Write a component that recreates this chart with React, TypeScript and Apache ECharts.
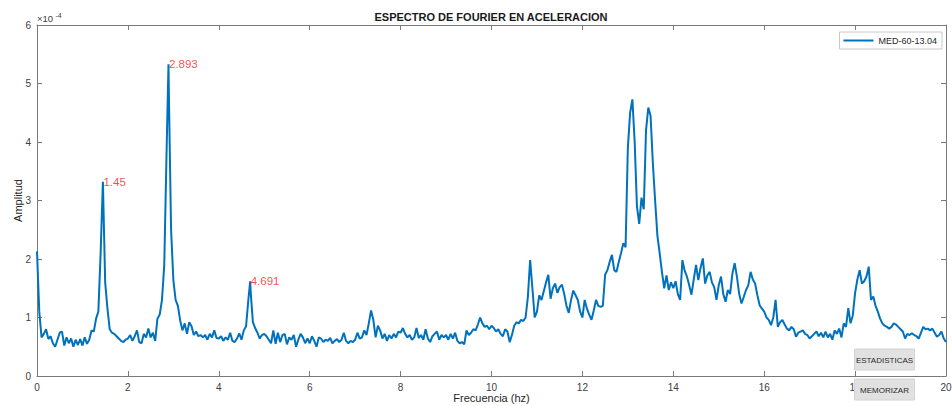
import React, { useEffect, useRef } from "react";
import * as echarts from "echarts";

// Texts
const TITLE = "ESPECTRO DE FOURIER EN ACELERACION";
const SERIES_NAME = "MED-60-13.04";
const X_NAME = "Frecuencia (hz)";
const Y_NAME = "Amplitud";
const Y_EXPONENT = "-4";
const BUTTON_LABELS = ["ESTADISTICAS", "MEMORIZAR"];

// Axis ranges
const X_MIN = 0;
const X_MAX = 20;
const X_STEP = 2;
const Y_MIN = 0;
const Y_MAX = 6;
const Y_STEP = 1;

// Spectrum bins: one amplitude (x10^-4) every FREQ_STEP Hz from 0 to 20 Hz
const FREQ_STEP = 0.05;
const AMPLITUDE = [
  // 0.00 - 0.95
  2.13, 1.10, 0.66, 0.72, 0.80, 0.63, 0.68, 0.56, 0.50, 0.62, 0.74, 0.76, 0.52, 0.66, 0.56, 0.64, 0.50, 0.62, 0.53, 0.63,
  // 1.00 - 1.95
  0.52, 0.66, 0.55, 0.62, 0.78, 0.76, 0.98, 1.10, 2.10, 3.32, 1.60, 1.15, 0.80, 0.74, 0.72, 0.68, 0.64, 0.60, 0.58, 0.62,
  // 2.00 - 2.95
  0.64, 0.70, 0.60, 0.68, 0.78, 0.58, 0.56, 0.72, 0.66, 0.81, 0.66, 0.74, 0.60, 0.98, 1.05, 1.30, 1.90, 3.80, 4.90, 2.50,
  // 3.00 - 3.95
  1.64, 1.30, 1.20, 0.95, 0.78, 0.90, 0.72, 0.92, 0.85, 0.70, 0.76, 0.68, 0.70, 0.66, 0.70, 0.62, 0.72, 0.66, 0.78, 0.65,
  // 4.00 - 4.95
  0.64, 0.68, 0.60, 0.66, 0.62, 0.74, 0.60, 0.58, 0.64, 0.73, 0.62, 0.78, 0.85, 1.30, 1.45, 0.92, 0.82, 0.74, 0.64, 0.70,
  // 5.00 - 5.95
  0.72, 0.68, 0.62, 0.56, 0.78, 0.55, 0.74, 0.58, 0.70, 0.72, 0.54, 0.66, 0.62, 0.70, 0.50, 0.62, 0.72, 0.66, 0.56, 0.64,
  // 6.00 - 6.95
  0.56, 0.68, 0.60, 0.50, 0.66, 0.64, 0.58, 0.62, 0.60, 0.65, 0.56, 0.60, 0.63, 0.58, 0.62, 0.74, 0.60, 0.56, 0.60, 0.58,
  // 7.00 - 7.95
  0.62, 0.74, 0.64, 0.66, 0.78, 0.70, 0.90, 1.12, 0.96, 0.66, 0.86, 0.78, 0.64, 0.72, 0.60, 0.70, 0.64, 0.72, 0.66, 0.76,
  // 8.00 - 8.95
  0.74, 0.82, 0.72, 0.66, 0.70, 0.62, 0.66, 0.82, 0.65, 0.70, 0.62, 0.80, 0.64, 0.58, 0.68, 0.72, 0.76, 0.62, 0.70, 0.66,
  // 9.00 - 9.95
  0.70, 0.62, 0.72, 0.64, 0.74, 0.60, 0.56, 0.58, 0.54, 0.78, 0.70, 0.74, 0.80, 0.78, 0.88, 1.00, 0.90, 0.84, 0.86, 0.80,
  // 10.00 - 10.95
  0.86, 0.82, 0.76, 0.80, 0.72, 0.68, 0.80, 0.76, 0.58, 0.70, 0.86, 0.92, 0.90, 0.96, 0.94, 1.00, 1.35, 1.98, 1.50, 1.00,
  // 11.00 - 11.95
  1.10, 1.38, 1.30, 1.45, 1.60, 1.73, 1.32, 1.50, 1.58, 1.42, 1.52, 1.56, 1.40, 1.20, 1.08, 1.30, 1.46, 1.38, 1.30, 1.10,
  // 12.00 - 12.95
  1.00, 1.30, 1.15, 1.05, 0.96, 1.12, 1.30, 1.20, 1.18, 1.20, 1.73, 1.81, 1.95, 2.07, 1.81, 1.78, 1.95, 2.10, 2.27, 2.20,
  // 13.00 - 13.95
  3.90, 4.50, 4.73, 4.00, 2.90, 2.60, 3.05, 2.85, 4.20, 4.59, 4.45, 3.64, 3.00, 2.40, 2.10, 1.78, 1.50, 1.72, 1.47, 1.60,
  // 14.00 - 14.95
  1.50, 1.62, 1.40, 1.30, 1.98, 1.80, 1.70, 1.55, 1.39, 1.65, 1.90, 1.64, 1.85, 2.01, 1.58, 1.72, 1.78, 1.60, 1.52, 1.30,
  // 15.00 - 15.95
  1.55, 1.70, 1.40, 1.27, 1.47, 1.40, 1.75, 1.93, 1.70, 1.40, 1.24, 1.35, 1.47, 1.55, 1.78, 1.65, 1.58, 1.38, 1.21, 1.15,
  // 16.00 - 16.95
  1.10, 1.00, 0.96, 0.87, 1.00, 1.30, 0.84, 0.92, 0.96, 0.88, 0.81, 0.78, 0.84, 0.80, 0.67, 0.74, 0.76, 0.78, 0.72, 0.70,
  // 17.00 - 17.95
  0.64, 0.68, 0.72, 0.76, 0.68, 0.74, 0.66, 0.76, 0.66, 0.72, 0.62, 0.78, 0.72, 0.81, 0.66, 0.90, 0.84, 1.16, 0.90, 1.04,
  // 18.00 - 18.95
  1.42, 1.65, 1.81, 1.58, 1.62, 1.70, 1.87, 1.30, 1.36, 1.20, 1.10, 0.98, 0.90, 0.86, 0.84, 0.81, 0.84, 0.90, 0.88, 0.84,
  // 19.00 - 20.00
  0.80, 0.76, 0.64, 0.72, 0.70, 0.73, 0.70, 0.68, 0.64, 0.74, 0.84, 0.80, 0.81, 0.78, 0.81, 0.74, 0.67, 0.70, 0.76, 0.64,
  0.58,
];

// Marked peaks (frequency in Hz, amplitude x10^-4)
const PEAK_FREQ = [1.45, 2.893, 4.691];
const PEAK_AMP = [3.32, 5.33, 1.62];

// Styles
const FONT = "'Liberation Sans', Arial, Helvetica, sans-serif";
const LINE_COLOR = "#0072BD";
const AXIS_COLOR = "#7a7a7a";
const LABEL_COLOR = "#404040";
const PEAK_COLOR = "#f51d1d";

function buildSpectrum(): number[][] {
  const bins = AMPLITUDE.map((a, i) => [Number((i * FREQ_STEP).toFixed(3)), a]);
  const peaks = PEAK_FREQ.map((f, i) => [f, PEAK_AMP[i]]);
  return bins
    .filter(([f]) => !PEAK_FREQ.some((p) => Math.abs(p - f) < 1e-6))
    .concat(peaks)
    .sort((a, b) => a[0] - b[0]);
}

export default function App() {
  const ref = useRef<HTMLDivElement>(null);

  useEffect(() => {
    if (!ref.current) return;
    const chart = echarts.init(ref.current, undefined, { renderer: "svg" });

    const axisLine = { show: true, onZero: false, lineStyle: { color: AXIS_COLOR, width: 1 } };
    const axisTick = { show: true, inside: true, length: 5, lineStyle: { color: AXIS_COLOR, width: 1 } };
    const tickLabel = { color: LABEL_COLOR, fontSize: 10, fontFamily: FONT };

    // UI buttons drawn over the lower-right corner of the axes
    const buttons: any[] = BUTTON_LABELS.map((label, i) => ({
      type: "group",
      x: 854.5,
      y: 349 + i * 30,
      z: 100,
      children: [
        {
          type: "rect",
          z: 100,
          shape: { x: 0, y: 0, width: 60, height: 21 },
          style: { fill: "#e1e1e1", stroke: "#d4d4d4", lineWidth: 1 },
        },
        {
          type: "text",
          z: 101,
          x: 30,
          y: 11,
          style: {
            text: label,
            fill: "#2a2a2a",
            font: `8px ${FONT}`,
            align: "center",
            verticalAlign: "middle",
          },
        },
      ],
    }));

    chart.setOption({
      animation: false,
      backgroundColor: "#ffffff",
      textStyle: { fontFamily: FONT },
      grid: {
        left: 37,
        right: 6,
        top: 25,
        bottom: 30,
        containLabel: false,
        outerBoundsMode: "none",
      },
      legend: {
        data: [{ name: SERIES_NAME, icon: "rect" }],
        right: 10,
        top: 32,
        orient: "vertical",
        backgroundColor: "#ffffff",
        borderColor: "#c8c8c8",
        borderWidth: 1,
        borderRadius: 0,
        padding: [4, 5, 4, 4],
        itemWidth: 30,
        itemHeight: 2,
        itemGap: 4,
        itemStyle: { color: LINE_COLOR },
        textStyle: { fontSize: 9, color: "#262626", fontFamily: FONT },
      },
      xAxis: [
        {
          type: "value",
          position: "bottom",
          min: X_MIN,
          max: X_MAX,
          interval: X_STEP,
          axisLine,
          axisTick,
          axisLabel: { ...tickLabel, margin: 6 },
          splitLine: { show: false },
          name: X_NAME,
          nameLocation: "middle",
          nameGap: 16,
          nameMoveOverlap: false,
          nameTextStyle: { fontSize: 11, color: "#262626", fontFamily: FONT, verticalAlign: "top" },
        },
        {
          type: "value",
          position: "top",
          min: X_MIN,
          max: X_MAX,
          interval: X_STEP,
          axisLine,
          axisTick,
          axisLabel: { show: false },
          splitLine: { show: false },
        },
      ],
      yAxis: [
        {
          type: "value",
          position: "left",
          min: Y_MIN,
          max: Y_MAX,
          interval: Y_STEP,
          axisLine,
          axisTick,
          axisLabel: { ...tickLabel, margin: 6 },
          splitLine: { show: false },
          name: Y_NAME,
          nameLocation: "middle",
          nameGap: 14,
          nameMoveOverlap: false,
          nameTextStyle: { fontSize: 11, color: "#262626", fontFamily: FONT },
        },
        {
          type: "value",
          position: "right",
          min: Y_MIN,
          max: Y_MAX,
          interval: Y_STEP,
          axisLine,
          axisTick,
          axisLabel: { show: false },
          splitLine: { show: false },
        },
      ],
      series: [
        {
          name: SERIES_NAME,
          type: "line",
          xAxisIndex: 0,
          yAxisIndex: 0,
          data: buildSpectrum(),
          symbol: "none",
          showSymbol: false,
          lineStyle: { color: LINE_COLOR, width: 2 },
          itemStyle: { color: LINE_COLOR },
          z: 3,
        },
        {
          name: "peaks",
          type: "scatter",
          xAxisIndex: 0,
          yAxisIndex: 0,
          data: PEAK_FREQ.map((f, i) => [f, PEAK_AMP[i]]),
          symbolSize: 1,
          itemStyle: { color: "rgba(0,0,0,0)" },
          silent: true,
          z: 4,
          label: {
            show: true,
            position: "right",
            distance: 0,
            color: PEAK_COLOR,
            fontSize: 11.5,
            fontFamily: FONT,
            formatter: (p: any) => String(p.value[0]),
          },
        },
      ],
      graphic: [
        {
          type: "text",
          x: 491,
          y: 17,
          style: {
            text: TITLE,
            fill: "#1a1a1a",
            font: `bold 11px ${FONT}`,
            align: "center",
            verticalAlign: "middle",
          },
        },
        {
          type: "text",
          x: 37,
          y: 23.5,
          style: { text: "\u00d710", fill: LABEL_COLOR, font: `9.5px ${FONT}`, align: "left", verticalAlign: "bottom" },
        },
        {
          type: "text",
          x: 55.5,
          y: 18.5,
          style: { text: Y_EXPONENT, fill: LABEL_COLOR, font: `7px ${FONT}`, align: "left", verticalAlign: "bottom" },
        },
        ...buttons,
      ],
    });

    return () => chart.dispose();
  }, []);

  return (
    <div
      ref={ref}
      style={{ position: "fixed", left: 0, top: 0, width: 952, height: 406, background: "#ffffff" }}
    />
  );
}
